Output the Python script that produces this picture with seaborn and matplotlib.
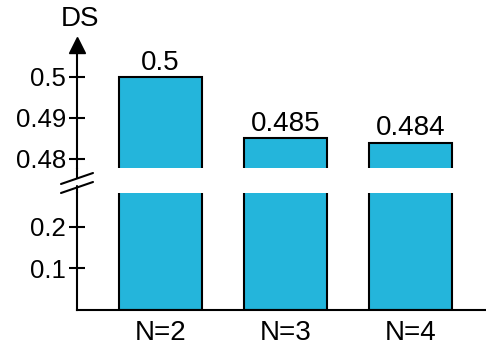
import matplotlib
matplotlib.use('Agg')
import pandas as pd
import seaborn as sns
from matplotlib import pyplot as plt
from matplotlib.lines import Line2D

# data
categories = ['N=2', 'N=3', 'N=4']
ds_values = [0.5, 0.485, 0.484]
top_ticks = [0.48, 0.49, 0.5]
bottom_ticks = [0.1, 0.2]

bar_color = '#24B5DB'

sns.set_style('ticks', {'axes.edgecolor': 'black', 'text.color': 'black',
                        'xtick.color': 'black', 'ytick.color': 'black',
                        'axes.labelcolor': 'black'})
plt.rcParams['font.family'] = ['Liberation Sans', 'DejaVu Sans']

df = pd.DataFrame({'n': categories, 'ds': ds_values})

W, H = 486, 347
fig = plt.figure(figsize=(W / 100, H / 100), dpi=100)


def fx(px):
    return px / W


def fy(py):
    return 1 - py / H


ax_top = fig.add_axes([fx(77), fy(168), 1 - fx(77), (168 - 45) / H])
ax_bot = fig.add_axes([fx(77), fy(310), 1 - fx(77), (310 - 193) / H])

for ax in (ax_top, ax_bot):
    sns.barplot(data=df, x='n', y='ds', color=bar_color, saturation=1,
                edgecolor='black', linewidth=1.5, width=0.664, ax=ax)
    ax.set_xlim(-0.668, 2.604)
    ax.set_xlabel('')
    ax.set_ylabel('')
    for s in ['top', 'right']:
        ax.spines[s].set_visible(False)
    ax.spines['left'].set_linewidth(1.5)
    ax.tick_params(axis='y', left=True, direction='inout', length=12,
                   width=1.5, labelsize=18.5, pad=2, colors='black')

ax_top.set_ylim(0.4778, 0.5078)
ax_top.set_yticks(top_ticks)
ax_top.set_yticklabels(['%g' % t for t in top_ticks])
ax_top.spines['bottom'].set_visible(False)
ax_top.set_xticks([])
ax_top.bar_label(ax_top.containers[0], fmt='%g', padding=1, fontsize=20,
                 color='black')
ax_top.plot(0, 1, marker='^', markersize=12, color='black', clip_on=False,
            transform=ax_top.transAxes)
fig.text(fx(80), fy(19), 'DS', fontsize=20, ha='center', va='center',
         color='black')

ax_bot.set_ylim(0, 0.2819)
ax_bot.set_yticks(bottom_ticks)
ax_bot.set_yticklabels(['%g' % t for t in bottom_ticks])
ax_bot.spines['bottom'].set_linewidth(1.5)
ax_bot.tick_params(axis='x', bottom=False, length=0, labelsize=20, pad=7,
                   colors='black')

# axis break marks
fig.add_artist(Line2D([fx(77), fx(77)], [fy(168), fy(178)], color='black', lw=1.5))
fig.add_artist(Line2D([fx(77), fx(77)], [fy(186), fy(193)], color='black', lw=1.5))
fig.add_artist(Line2D([fx(61), fx(93)], [fy(184), fy(173)], color='black', lw=1.5))
fig.add_artist(Line2D([fx(61), fx(93)], [fy(193), fy(182)], color='black', lw=1.5))

fig.savefig('out.png', dpi=100)
